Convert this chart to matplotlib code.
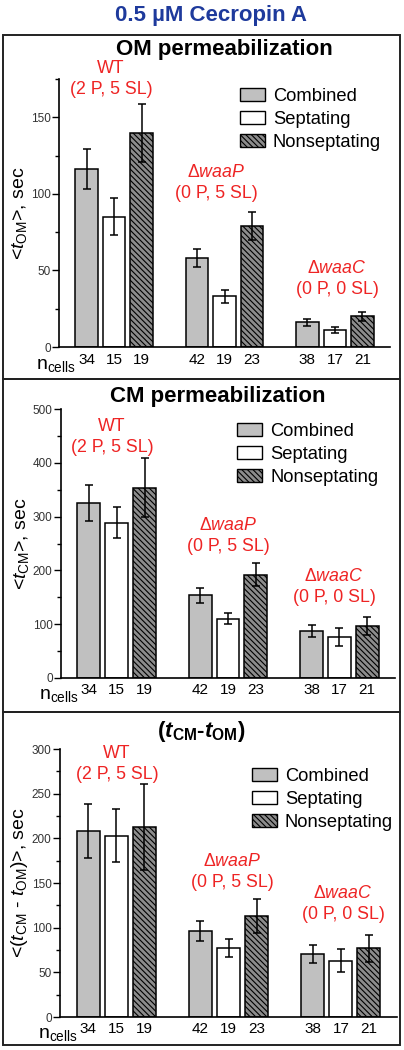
import numpy as np
import matplotlib
matplotlib.use("Agg")
import matplotlib.pyplot as plt
from matplotlib.patches import Rectangle, Patch
from matplotlib.transforms import blended_transform_factory

plt.rcParams["font.family"] = "Liberation Sans"
plt.rcParams["mathtext.fontset"] = "custom"
plt.rcParams["mathtext.rm"] = "Liberation Sans"
plt.rcParams["mathtext.it"] = "Liberation Sans:italic"
plt.rcParams["mathtext.bf"] = "Liberation Sans:bold"
plt.rcParams["mathtext.bfit"] = "Liberation Sans:bold:italic"
plt.rcParams["hatch.linewidth"] = 0.8

# data
strains = ["WT", "waaP", "waaC"]
strain_labels = ["WT\n(2 P, 5 SL)", "Δ$\\mathit{waaP}$\n(0 P, 5 SL)", "Δ$\\mathit{waaC}$\n(0 P, 0 SL)"]
kinds = ["Combined", "Septating", "Nonseptating"]
n_cells = [[34, 15, 19], [42, 19, 23], [38, 17, 21]]

om_combined = [116, 58, 16]
om_combined_err = [13, 6, 2]
om_sept = [85, 33, 11]
om_sept_err = [12, 4, 2]
om_nonsept = [140, 79, 20]
om_nonsept_err = [19, 9, 3]

cm_combined = [325, 154, 88]
cm_combined_err = [33, 14, 11]
cm_sept = [289, 110, 76]
cm_sept_err = [29, 10, 17]
cm_nonsept = [354, 192, 97]
cm_nonsept_err = [55, 21, 17]

diff_combined = [208, 96, 71]
diff_combined_err = [30, 11, 10]
diff_sept = [203, 77, 63]
diff_sept_err = [30, 10, 13]
diff_nonsept = [213, 113, 77]
diff_nonsept_err = [48, 19, 15]

W, H = 404, 1050
fig = plt.figure(figsize=(W / 100, H / 100), dpi=100)
RED = "#ee2424"


def fx(x):
    return x / W


def fy(y):
    return 1 - y / H


def px_axes(x0, y0, x1, y1):
    return fig.add_axes([fx(x0), fy(y1), fx(x1) - fx(x0), (y1 - y0) / H])


styles = [dict(facecolor="#c0c0c0", edgecolor="black"),
          dict(facecolor="white", edgecolor="black"),
          dict(facecolor="#8c8c8c", edgecolor="black", hatch="\\\\\\\\\\\\")]


def draw_panel(box, axbox, title, title_xy, ylabel, ylim, major, minor,
               vals, errs, label_xy, legend_xy, ncells_dy):
    # panel frame
    fig.patches.append(Rectangle((fx(box[0]), fy(box[3])), fx(box[2]) - fx(box[0]),
                                 (box[3] - box[1]) / H, transform=fig.transFigure,
                                 fill=False, edgecolor="#222222", linewidth=1.4))
    ax = px_axes(*axbox)
    for j in range(3):
        xs = np.arange(3) * 4 + j
        ax.bar(xs, vals[j], width=0.82, linewidth=1.1, zorder=2, **styles[j])
        ax.errorbar(xs, vals[j], yerr=errs[j], fmt="none", ecolor="black",
                    elinewidth=1.1, capsize=3, capthick=1.1, zorder=3)
    ax.set_xlim(-1, 11)
    ax.set_ylim(*ylim)
    ax.set_xticks([])
    ax.set_yticks(np.arange(0, ylim[1] + 1, major))
    ax.set_yticks(np.arange(0, ylim[1] + 1, minor), minor=True)
    ax.tick_params(axis="y", which="major", length=5, width=1, labelsize=8.5,
                   labelcolor="#333333", pad=1)
    ax.tick_params(axis="y", which="minor", length=3, width=1)
    for s in ["top", "right"]:
        ax.spines[s].set_visible(False)
    for s in ["left", "bottom"]:
        ax.spines[s].set_linewidth(1.2)
    ax.patch.set_alpha(0)
    ax.set_ylabel(ylabel, fontsize=14, labelpad=1)

    fig.text(fx(title_xy[0]), fy(title_xy[1]), title, fontsize=16,
             fontweight="bold", ha="center", va="center")
    for i, (lx, ly) in enumerate(label_xy):
        fig.text(fx(lx), fy(ly), strain_labels[i], color=RED, fontsize=12.8,
                 ha="center", va="top", linespacing=1.3)

    trans = blended_transform_factory(ax.transData, ax.transAxes)
    for i in range(3):
        for j in range(3):
            ax.text(4 * i + j, ncells_dy, str(n_cells[i][j]), transform=trans,
                    fontsize=11, ha="center", va="center")
    ax.text(-0.38, ncells_dy - 0.02, "n$_{\\rm cells}$", transform=trans, fontsize=14,
            ha="right", va="center")

    handles = [Patch(label=k, linewidth=1, **styles[j]) for j, k in enumerate(kinds)]
    fig.legend(handles=handles, loc="upper left",
               bbox_to_anchor=(fx(legend_xy[0]), fy(legend_xy[1])),
               frameon=False, fontsize=13.2, handlelength=1.35, handleheight=0.7,
               handletextpad=0.45, labelspacing=0.33, borderpad=0, borderaxespad=0)
    return ax


fig.text(fx(211), fy(15), "0.5 µM Cecropin A", color="#1e3a9c", fontsize=16,
         fontweight="bold", ha="center", va="center")

draw_panel((3, 35, 400, 379), (59, 79, 390, 347), "OM permeabilization", (224, 50),
           "<$\\mathit{t}_{\\rm OM}$>, sec", (0, 175), 50, 25,
           [om_combined, om_sept, om_nonsept],
           [om_combined_err, om_sept_err, om_nonsept_err],
           [(111, 60), (216, 164), (337, 260)], (240, 88), -0.05)

draw_panel((3, 379, 400, 712), (61, 409, 395, 678), "CM permeabilization", (218, 397),
           "<$\\mathit{t}_{\\rm CM}$>, sec", (0, 500), 100, 50,
           [cm_combined, cm_sept, cm_nonsept],
           [cm_combined_err, cm_sept_err, cm_nonsept_err],
           [(112, 418), (228, 517), (334, 568)], (237, 423), -0.045)

draw_panel((3, 712, 400, 1045), (60, 749, 397, 1017),
           "($\\mathbfit{t}_{\\mathbf{CM}}$-$\\mathbfit{t}_{\\mathbf{OM}}$)", (201, 732),
           "<($\\mathit{t}_{\\rm CM}$ - $\\mathit{t}_{\\rm OM}$)>, sec", (0, 300), 50, 25,
           [diff_combined, diff_sept, diff_nonsept],
           [diff_combined_err, diff_sept_err, diff_nonsept_err],
           [(117, 745), (232, 853), (343, 885)], (252, 768), -0.045)

fig.savefig("out.png", dpi=100)
